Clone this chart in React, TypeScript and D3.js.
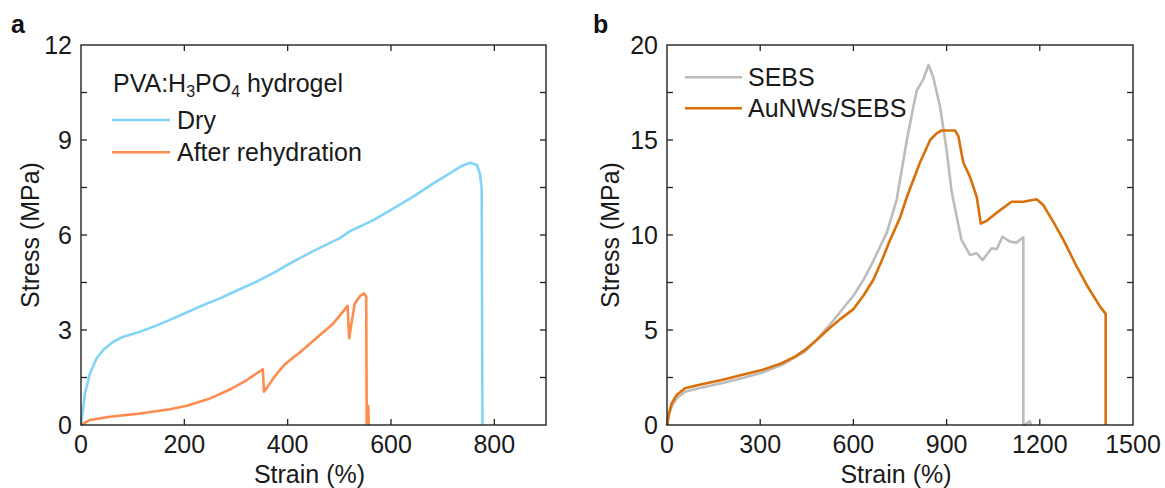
import React from "react";
import * as d3 from "d3";

// ---------- Panel a data ----------
const dryStrain = [0, 7.7, 17.4, 30, 43, 62.5, 82, 108, 140, 172, 201, 237, 269, 301, 340, 379, 402, 450, 501, 521, 566, 605, 643, 682, 714, 737, 753, 766, 772, 775.5, 777];
const dryStress = [0, 1.0, 1.63, 2.1, 2.37, 2.63, 2.79, 2.91, 3.1, 3.32, 3.53, 3.79, 4.0, 4.24, 4.53, 4.86, 5.08, 5.5, 5.9, 6.12, 6.47, 6.84, 7.21, 7.63, 7.95, 8.18, 8.28, 8.21, 7.95, 7.47, 0];

const wetStrain = [0, 17.4, 56, 108, 172, 205, 250, 288, 321, 352, 354, 360, 370, 382, 395, 410, 424, 463, 488, 516, 519, 524, 530, 540, 548, 552, 553, 556, 557];
const wetStress = [0, 0.16, 0.26, 0.35, 0.5, 0.61, 0.84, 1.12, 1.42, 1.76, 1.05, 1.18, 1.42, 1.68, 1.92, 2.12, 2.3, 2.85, 3.2, 3.76, 2.74, 3.26, 3.84, 4.07, 4.16, 4.05, 0.05, 0.6, 0];

const aXTicks = [0, 200, 400, 600, 800];
const aYTicks = [0, 3, 6, 9, 12];
const aYMinor = [0, 1.5, 3, 4.5, 6, 7.5, 9, 10.5, 12];

// ---------- Panel b data ----------
const sebsStrain = [0, 6, 15, 31, 58, 101, 176, 240, 305, 369, 444, 480, 520, 560, 600, 632, 660, 686, 707, 739, 772, 793, 804, 825, 842, 857, 879, 900, 916, 932, 948, 975, 997, 1016, 1045, 1061, 1080, 1104, 1125, 1147, 1147, 1150, 1168, 1172];
const sebsStress = [0, 0.53, 0.96, 1.4, 1.75, 1.93, 2.2, 2.46, 2.75, 3.15, 3.86, 4.45, 5.2, 6.0, 6.8, 7.63, 8.5, 9.39, 10.1, 11.84, 15.0, 16.75, 17.6, 18.2, 18.95, 18.3, 16.75, 14.47, 12.3, 11.0, 9.74, 8.95, 9.04, 8.68, 9.3, 9.25, 9.91, 9.65, 9.6, 9.88, 0.1, 0, 0.2, 0];

const auStrain = [0, 6.4, 15, 31, 58, 101, 176, 240, 305, 369, 412, 444, 480, 520, 560, 600, 632, 664, 690, 718, 750, 772, 814, 847, 868, 884, 927, 938, 948, 954, 975, 997, 1010, 1029, 1066, 1109, 1147, 1190, 1211, 1243, 1276, 1319, 1351, 1394, 1412, 1412];
const auStress = [0, 0.61, 1.14, 1.58, 1.93, 2.1, 2.37, 2.63, 2.89, 3.25, 3.6, 3.95, 4.45, 5.05, 5.6, 6.1, 6.8, 7.63, 8.6, 9.74, 10.9, 12.0, 13.8, 15.0, 15.35, 15.5, 15.5, 15.2, 14.3, 13.8, 13.07, 12.0, 10.6, 10.75, 11.23, 11.75, 11.75, 11.88, 11.58, 10.7, 9.74, 8.33, 7.37, 6.23, 5.85, 0];

const bXTicks = [0, 300, 600, 900, 1200, 1500];
const bYTicks = [0, 5, 10, 15, 20];
const bYMinor = [0, 2.5, 5, 7.5, 10, 12.5, 15, 17.5, 20];

const FONT = "'Liberation Sans', Arial, sans-serif";
const FS = 25;
const TXT = "#1a1a1a";
const AX = "#222";

type Series = { xs: number[]; ys: number[]; color: string };

function Panel(props: {
  left: number; right: number; top: number; bottom: number;
  xMax: number; yMax: number;
  xTicks: number[]; yTicks: number[]; yMinor: number[];
  series: Series[]; yTitleX: number; label: string; labelX: number;
}) {
  const { left, right, top, bottom, xMax, yMax, xTicks, yTicks, yMinor, series } = props;
  const x = d3.scaleLinear().domain([0, xMax]).range([left, right]);
  const y = d3.scaleLinear().domain([0, yMax]).range([bottom, top]);
  const line = d3.line<[number, number]>().x(d => x(d[0])).y(d => y(d[1]));
  const tl = 6;
  return (
    <g>
      {series.map((s, i) => (
        <path key={i} d={line(s.xs.map((v, j) => [v, s.ys[j]] as [number, number])) || ""}
          fill="none" stroke={s.color} strokeWidth={2.6} strokeLinejoin="round" />
      ))}
      <rect x={left} y={top} width={right - left} height={bottom - top} fill="none" stroke={AX} strokeWidth={1.4} />
      {xTicks.filter(t => t > 0 && t < xMax).map(t => (
        <g key={"xt" + t}>
          <line x1={x(t)} x2={x(t)} y1={bottom} y2={bottom - tl} stroke={AX} strokeWidth={1.3} />
          <line x1={x(t)} x2={x(t)} y1={top} y2={top + tl} stroke={AX} strokeWidth={1.3} />
        </g>
      ))}
      {yMinor.filter(t => t > 0 && t < yMax).map(t => (
        <g key={"yt" + t}>
          <line x1={left} x2={left + tl} y1={y(t)} y2={y(t)} stroke={AX} strokeWidth={1.3} />
          <line x1={right} x2={right - tl} y1={y(t)} y2={y(t)} stroke={AX} strokeWidth={1.3} />
        </g>
      ))}
      {xTicks.map(t => (
        <text key={"xl" + t} x={x(t)} y={453} textAnchor="middle" fontFamily={FONT} fontSize={FS} fill={TXT}>{t}</text>
      ))}
      {yTicks.map(t => (
        <text key={"yl" + t} x={left - 9} y={y(t) + 9} textAnchor="end" fontFamily={FONT} fontSize={FS} fill={TXT}>{t}</text>
      ))}
      <text x={(left + right) / 2 - 4} y={483} textAnchor="middle" fontFamily={FONT} fontSize={FS} fill={TXT}>Strain (%)</text>
      <text transform={`translate(${props.yTitleX},${(top + bottom) / 2}) rotate(-90)`} textAnchor="middle" fontFamily={FONT} fontSize={FS} fill={TXT}>Stress (MPa)</text>
      <text x={props.labelX} y={33} fontFamily={FONT} fontSize={25} fontWeight="bold" fill="#111">{props.label}</text>
    </g>
  );
}

export default function App() {
  const dryC = "#80d4f6";
  const wetC = "#ff8b4e";
  const sebsC = "#bcbcbc";
  const auC = "#d9700a";
  return (
    <svg width={1165} height={488} style={{ position: "absolute", left: 0, top: 0, background: "#fff" }}>
      <Panel left={81} right={546} top={45} bottom={425} xMax={900} yMax={12}
        xTicks={aXTicks} yTicks={aYTicks} yMinor={aYMinor}
        series={[{ xs: dryStrain, ys: dryStress, color: dryC }, { xs: wetStrain, ys: wetStress, color: wetC }]}
        yTitleX={39} label="a" labelX={11} />
      <Panel left={667} right={1133} top={45} bottom={425} xMax={1500} yMax={20}
        xTicks={bXTicks} yTicks={bYTicks} yMinor={bYMinor}
        series={[{ xs: sebsStrain, ys: sebsStress, color: sebsC }, { xs: auStrain, ys: auStress, color: auC }]}
        yTitleX={619} label="b" labelX={593} />
      {/* legend a */}
      <text x={113} y={91.5} fontFamily={FONT} fontSize={FS} fill={TXT}>
        PVA:H<tspan fontSize={16} dy={5}>3</tspan><tspan dy={-5}>PO</tspan><tspan fontSize={16} dy={5}>4</tspan><tspan dy={-5}> hydrogel</tspan>
      </text>
      <line x1={112} x2={170} y1={120} y2={120} stroke={dryC} strokeWidth={2.6} />
      <text x={177} y={128.5} fontFamily={FONT} fontSize={FS} fill={TXT}>Dry</text>
      <line x1={112} x2={170} y1={152.3} y2={152.3} stroke={wetC} strokeWidth={2.6} />
      <text x={177} y={160.5} fontFamily={FONT} fontSize={FS} fill={TXT}>After rehydration</text>
      {/* legend b */}
      <line x1={685} x2={742} y1={77.3} y2={77.3} stroke={sebsC} strokeWidth={2.6} />
      <text x={748} y={86} fontFamily={FONT} fontSize={FS} fill={TXT}>SEBS</text>
      <line x1={685} x2={742} y1={108.3} y2={108.3} stroke={auC} strokeWidth={2.6} />
      <text x={748} y={117} fontFamily={FONT} fontSize={FS} fill={TXT}>AuNWs/SEBS</text>
    </svg>
  );
}
